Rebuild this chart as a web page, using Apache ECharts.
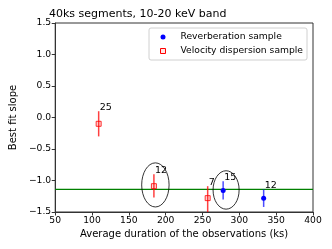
<!DOCTYPE html>
<html>
<head>
<meta charset="utf-8">
<script src="https://cdn.jsdelivr.net/npm/echarts@6/dist/echarts.min.js"></script>
<style>html,body{margin:0;padding:0;background:#fff}#c{width:332px;height:249px}</style>
</head>
<body>
<div id="c"></div>
<script>
// Data
var xTicks = [50, 100, 150, 200, 250, 300, 350, 400];
var yTicks = [-1.5, -1.0, -0.5, 0.0, 0.5, 1.0, 1.5];
// [duration, slope, errLow, errHigh, segmentCount]
var velocityDispersion = [
  [109, -0.10, -0.30, 0.10, 25],
  [184, -1.09, -1.27, -0.90, 12],
  [257, -1.28, -1.55, -1.09, 7]
];
var reverberation = [
  [278, -1.16, -1.30, -1.01, 15],
  [333, -1.28, -1.42, -1.14, 12]
];
var referenceSlope = -1.14;
var referenceRange = [50, 400];
// [centerX, centerY, radiusX, radiusY] in data units
var ellipses = [
  [186, -1.07, 18.6, 0.35],
  [282, -1.15, 17.7, 0.305]
];

var FONT = 'DejaVu Sans';
var chart = echarts.init(document.getElementById('c'), null, {renderer: 'canvas'});

function errBarSeries(data, color) {
  return {
    type: 'custom',
    clip: true,
    silent: true,
    z: 3,
    data: data.map(function (d) { return [d[0], d[2], d[3], d[4]]; }),
    encode: {x: 0, y: [1, 2]},
    renderItem: function (params, api) {
      var lo = api.coord([api.value(0), api.value(1)]);
      var hi = api.coord([api.value(0), api.value(2)]);
      return {
        type: 'group',
        children: [
          {type: 'line', shape: {x1: lo[0], y1: lo[1], x2: hi[0], y2: hi[1]},
           style: {stroke: color, lineWidth: 1.5}},
          {type: 'text', x: hi[0] + 1, y: hi[1] + 1,
           style: {text: String(api.value(3)), fill: '#000', font: '9.5px "' + FONT + '"',
                   textAlign: 'left', textVerticalAlign: 'bottom'}}
        ]
      };
    }
  };
}

var option = {
  animation: false,
  backgroundColor: '#fff',
  title: {
    text: '40ks segments, 10-20 keV band',
    left: 49, top: 9, padding: 0,
    textStyle: {fontFamily: FONT, fontSize: 11, fontWeight: 'normal', color: '#000'}
  },
  legend: {
    orient: 'vertical',
    left: 149, top: 28,
    padding: [4, 4, 4, 11],
    itemWidth: 5, itemHeight: 5,
    itemGap: 4,
    backgroundColor: 'rgba(255,255,255,0.8)',
    borderColor: '#d0d0d0', borderWidth: 1, borderRadius: 2,
    textStyle: {fontFamily: FONT, fontSize: 9.2, color: '#000', lineHeight: 10, padding: [0, 0, 0, 10]},
    data: [
      {name: 'Reverberation sample', icon: 'circle', itemStyle: {color: '#0000ff', borderWidth: 0}},
      {name: 'Velocity dispersion sample', icon: 'rect',
       itemStyle: {color: 'rgba(255,0,0,0.1)', borderColor: '#ff0000', borderWidth: 1}}
    ]
  },
  grid: {left: 50, right: 19, top: 23, bottom: 37, show: true, borderColor: '#333', borderWidth: 1, backgroundColor: 'transparent'},
  xAxis: {
    type: 'value', min: 50, max: 400, interval: 50,
    name: 'Average duration of the observations (ks)',
    nameLocation: 'middle', nameGap: 16,
    nameTextStyle: {fontFamily: FONT, fontSize: 10, color: '#000'},
    axisLine: {show: true, onZero: false, lineStyle: {color: '#333', width: 1}},
    axisTick: {show: true, inside: false, length: 3.5, lineStyle: {color: '#333'}},
    axisLabel: {fontFamily: FONT, fontSize: 9.2, color: '#000', margin: 4,
      formatter: function (v) { return xTicks.indexOf(v) >= 0 ? String(v) : ''; }},
    splitLine: {show: false}
  },
  yAxis: {
    type: 'value', min: -1.5, max: 1.5, interval: 0.5,
    name: 'Best fit slope',
    nameLocation: 'middle', nameGap: 31,
    nameTextStyle: {fontFamily: FONT, fontSize: 10, color: '#000'},
    axisLine: {show: true, onZero: false, lineStyle: {color: '#333', width: 1}},
    axisTick: {show: true, inside: false, length: 3.5, lineStyle: {color: '#333'}},
    axisLabel: {fontFamily: FONT, fontSize: 9.2, color: '#000', margin: 4,
      formatter: function (v) {
        var t = yTicks.filter(function (k) { return Math.abs(k - v) < 1e-9; });
        if (!t.length) return '';
        return v.toFixed(1).replace('-', '\u2212');
      }},
    splitLine: {show: false}
  },
  series: [
    {
      type: 'line', silent: true, z: 2, symbol: 'none',
      lineStyle: {color: '#008000', width: 1.2, type: 'solid'},
      itemStyle: {color: '#008000'},
      data: referenceRange.map(function (x) { return [x, referenceSlope]; })
    },
    errBarSeries(velocityDispersion, 'rgba(255,0,0,0.75)'),
    errBarSeries(reverberation, 'rgba(0,0,255,0.7)'),
    {
      name: 'Velocity dispersion sample', type: 'scatter', z: 4,
      symbol: 'rect', symbolSize: 5,
      itemStyle: {color: 'rgba(255,0,0,0.15)', borderColor: 'rgba(255,0,0,0.8)', borderWidth: 1, opacity: 1},
      data: velocityDispersion.map(function (d) { return [d[0], d[1]]; })
    },
    {
      name: 'Reverberation sample', type: 'scatter', z: 4,
      symbol: 'circle', symbolSize: 5,
      itemStyle: {color: '#0000ff', opacity: 1},
      data: reverberation.map(function (d) { return [d[0], d[1]]; })
    },
    {
      type: 'custom', silent: true, z: 5, clip: false,
      data: ellipses,
      encode: {x: 0, y: 1},
      renderItem: function (params, api) {
        var c = api.coord([api.value(0), api.value(1)]);
        var s = api.size([api.value(2), api.value(3)]);
        return {
          type: 'ellipse',
          shape: {cx: c[0], cy: c[1], rx: s[0], ry: s[1]},
          style: {fill: 'none', stroke: '#000', lineWidth: 0.8}
        };
      }
    }
  ]
};
chart.setOption(option);
</script>
</body>
</html>
